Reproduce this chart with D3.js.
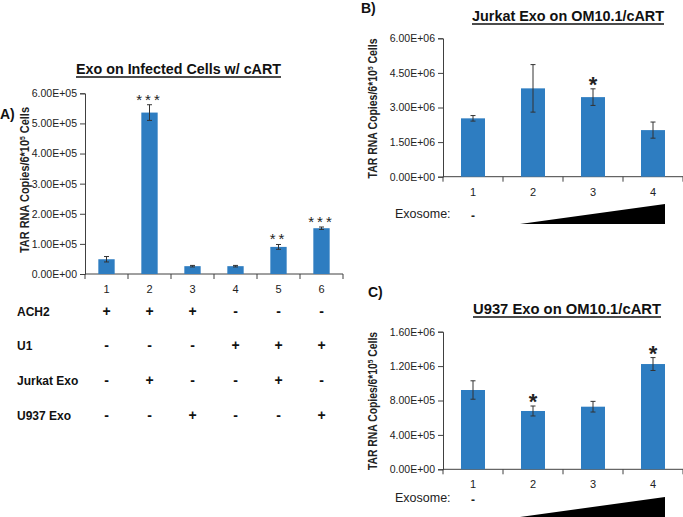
<!DOCTYPE html>
<html><head><meta charset="utf-8">
<script src="https://cdn.jsdelivr.net/npm/d3@7"></script>
<style>
html,body{margin:0;padding:0;background:#fff;}
svg{display:block;font-family:"Liberation Sans",Arial,sans-serif;}
</style></head>
<body>
<svg id="chart" width="683" height="517"></svg>
<script>
// ---------- DATA ----------
const catsA = ["1","2","3","4","5","6"];
const valsA = [49000, 536000, 26000, 26000, 90000, 152000];
const errA  = [9000, 26000, 2500, 2500, 8000, 4000];
const starsA = ["", "***", "", "", "**", "***"];
const ticksA = [0, 100000, 200000, 300000, 400000, 500000, 600000];

const tableRows = ["ACH2", "U1", "Jurkat Exo", "U937 Exo"];
const tableSigns = [
  ["+","+","+","-","-","-"],
  ["-","-","-","+","+","+"],
  ["-","+","-","-","+","-"],
  ["-","-","+","-","-","+"]
];

const catsB = ["1","2","3","4"];
const valsB = [2530000, 3830000, 3450000, 2020000];
const errB  = [120000, 1030000, 360000, 350000];
const starsB = ["", "", "*", ""];
const ticksB = [0, 1500000, 3000000, 4500000, 6000000];

const catsC = ["1","2","3","4"];
const valsC = [922000, 678000, 728000, 1224000];
const errC  = [107000, 58000, 62000, 75000];
const starsC = ["", "*", "", "*"];
const ticksC = [0, 400000, 800000, 1200000, 1600000];

const titleA = "Exo on Infected Cells w/ cART";
const titleB = "Jurkat Exo on OM10.1/cART";
const titleC = "U937 Exo on OM10.1/cART";
const exoLabel = "Exosome:";

// ---------- DRAW ----------
const svg = d3.select("#chart");
const BAR = "#2E7DC1", AX = "#404040";

function fmtE(d){
  const [m,e] = d.toExponential(2).split("e");
  return m + "E" + e[0] + e.slice(1).padStart(2,"0");
}

function panel(o){
  const g = svg.append("g");
  const x = d3.scaleBand().domain(o.cats).range([o.x0, o.x1]).paddingInner(o.pad).paddingOuter(o.pad/2);
  const y = d3.scaleLinear().domain([0, o.ymax]).range([o.y0, o.y1]);
  // y axis
  const ya = d3.axisLeft(y).tickValues(o.ticks).tickFormat(fmtE).tickSize(5).tickPadding(3);
  const gy = g.append("g").attr("transform", `translate(${o.x0},0)`).call(ya);
  gy.selectAll("path,line").attr("stroke", AX);
  gy.selectAll("text").attr("font-size", o.tickFs).attr("fill","#222");
  // x axis line
  g.append("line").attr("x1", o.x0).attr("x2", o.x1).attr("y1", o.y0).attr("y2", o.y0).attr("stroke", AX);
  const step = x.step();
  const bounds = d3.range(o.cats.length + 1).map(i => o.x0 + i*step);
  g.selectAll(".xt").data(bounds).join("line").attr("x1", d=>d).attr("x2", d=>d)
    .attr("y1", o.y0).attr("y2", o.y0+5).attr("stroke", AX);
  g.selectAll(".xl").data(o.cats).join("text")
    .attr("x", d => x(d) + x.bandwidth()/2).attr("y", o.y0 + 19)
    .attr("text-anchor","middle").attr("font-size", 11).attr("fill","#222").text(d=>d);
  // bars
  g.selectAll(".bar").data(o.vals).join("rect")
    .attr("x", (d,i) => x(o.cats[i])).attr("width", x.bandwidth())
    .attr("y", d => y(d)).attr("height", d => o.y0 - y(d)).attr("fill", BAR);
  // error bars
  const eg = g.selectAll(".err").data(o.vals).join("g");
  eg.append("line").attr("x1",(d,i)=>x(o.cats[i])+x.bandwidth()/2).attr("x2",(d,i)=>x(o.cats[i])+x.bandwidth()/2)
    .attr("y1",(d,i)=>y(d+o.err[i])).attr("y2",(d,i)=>y(d-o.err[i])).attr("stroke","#333").attr("stroke-width",1);
  [1,-1].forEach(s=>{
    eg.append("line").attr("x1",(d,i)=>x(o.cats[i])+x.bandwidth()/2-2.5).attr("x2",(d,i)=>x(o.cats[i])+x.bandwidth()/2+2.5)
      .attr("y1",(d,i)=>y(d+s*o.err[i])).attr("y2",(d,i)=>y(d+s*o.err[i])).attr("stroke","#333").attr("stroke-width",1);
  });
  // stars
  g.selectAll(".star").data(o.stars).join("text")
    .attr("x",(d,i)=>x(o.cats[i])+x.bandwidth()/2).attr("y",(d,i)=>y(o.vals[i]+o.err[i]) + o.starDy)
    .attr("text-anchor","middle").attr("font-size", o.starFs).attr("letter-spacing", o.starLs)
    .attr("font-weight", o.starW).attr("fill","#222").text(d=>d);
  // title
  g.append("text").attr("x", o.tx).attr("y", o.ty).attr("font-size", 15).attr("font-weight","bold")
    .attr("fill","#111").attr("textLength", o.tw).attr("lengthAdjust","spacingAndGlyphs").text(o.title);
  g.append("line").attr("x1", o.tx).attr("x2", o.tx+o.tw).attr("y1", o.ty+3).attr("y2", o.ty+3)
    .attr("stroke","#111").attr("stroke-width",1.3);
  // panel letter
  g.append("text").attr("x", o.lx).attr("y", o.ly).attr("font-size", 14).attr("font-weight","bold")
    .attr("fill","#111").text(o.letter);
  // y label
  const yl = g.append("text").attr("transform", `translate(${o.ylx},${o.yly}) rotate(-90)`)
    .attr("text-anchor","middle").attr("font-size", 12).attr("font-weight","bold").attr("fill","#222")
    .attr("textLength", o.ylw).attr("lengthAdjust","spacingAndGlyphs");
  yl.append("tspan").text("TAR RNA Copies/6*10");
  yl.append("tspan").attr("font-size", 7.5).attr("dy", -4.5).text("5");
  yl.append("tspan").attr("dy", 4.5).text(" Cells");
  return {x, y, g};
}

const A = panel({cats:catsA, vals:valsA, err:errA, stars:starsA, ticks:ticksA, ymax:600000,
  x0:85, x1:343, y0:274, y1:93.3, pad:0.62, tickFs:10.5,
  starFs:15, starLs:3, starDy:0, starW:"normal",
  title:titleA, tx:76, ty:74, tw:205, letter:"A)", lx:0, ly:119,
  ylx:29, yly:180, ylw:146});

// table
const tg = svg.append("g");
const rowY = [311, 345, 380, 415];
tableRows.forEach((r,ri)=>{
  tg.append("text").attr("x",17).attr("y",rowY[ri]+4.5).attr("font-size",12).attr("font-weight","bold")
    .attr("fill","#111").text(r);
  tg.selectAll(null).data(tableSigns[ri]).join("text")
    .attr("x",(d,i)=>A.x(catsA[i])+A.x.bandwidth()/2).attr("y",rowY[ri]+5)
    .attr("text-anchor","middle").attr("font-size",14).attr("font-weight","bold").attr("fill","#111").text(d=>d);
});

function exo(P, yTop, yBot, lblY){
  const g = svg.append("g");
  g.append("text").attr("x",395).attr("y",lblY).attr("font-size",12.5).attr("fill","#222").text(exoLabel);
  g.append("text").attr("x",P.x("1")+P.x.bandwidth()/2).attr("y",lblY+2).attr("text-anchor","middle")
    .attr("font-size",12).attr("font-weight","bold").attr("fill","#222").text("-");
  const xl = P.x("2") - 1, xr = P.x("4") + P.x.bandwidth();
  g.append("path").attr("d", `M${xl},${yBot} L${xr},${yTop} L${xr},${yBot} Z`).attr("fill","#000");
}

const B = panel({cats:catsB, vals:valsB, err:errB, stars:starsB, ticks:ticksB, ymax:6000000,
  x0:443, x1:683, y0:176.7, y1:38.3, pad:0.6, tickFs:10.5,
  starFs:22, starLs:0, starDy:3, starW:"bold",
  title:titleB, tx:472, ty:21, tw:192, letter:"B)", lx:361, ly:13,
  ylx:377, yly:108.5, ylw:140});
exo(B, 204, 224, 218);

const C = panel({cats:catsC, vals:valsC, err:errC, stars:starsC, ticks:ticksC, ymax:1600000,
  x0:443, x1:683, y0:469.3, y1:331.7, pad:0.6, tickFs:10.5,
  starFs:22, starLs:0, starDy:3, starW:"bold",
  title:titleC, tx:473, ty:314, tw:188, letter:"C)", lx:368, ly:297,
  ylx:377, yly:401, ylw:138});
exo(C, 497, 517, 502);
</script>
</body></html>
